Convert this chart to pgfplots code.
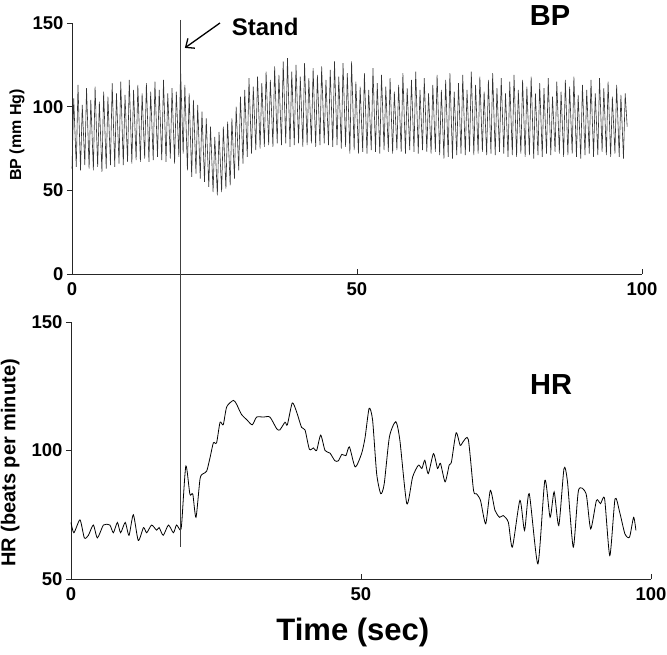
\documentclass[border=0pt]{standalone}
\usepackage{fontspec}
\setmainfont{Liberation Sans}
\usepackage{pgfplots}
\pgfplotsset{compat=1.18}
\usetikzlibrary{arrows.meta}

\pgfplotsset{
  panel/.style={
    scale only axis,
    axis x line*=bottom, axis y line*=left,
    axis line style={black!85, line width=0.8pt},
    tick align=outside, major tick length=5pt,
    x tick style={yshift=5pt, black!85, line width=0.8pt},
    y tick style={black!85, line width=0.8pt},
    xmin=0, xmax=100, xtick={0,50,100},
    ticklabel style={font=\fontsize{18.5}{20}\selectfont\bfseries},
    /pgf/number format/assume math mode=true,
    clip=false,
  }
}

\begin{document}
\begin{tikzpicture}
\useasboundingbox (0pt,0pt) rectangle (667pt,654pt);

% blood pressure
\begin{axis}[panel,
  at={(72pt,380pt)}, anchor=south west, width=570pt, height=251pt,
  ymin=0, ymax=150, ytick={0,50,100,150},
  ylabel={BP (mm Hg)},
  ylabel style={at={(axis description cs:-0.0965,0.554)}, anchor=center,
    font=\fontsize{16}{18}\selectfont\bfseries},
  title={BP},
  title style={at={(axis description cs:0.8386,1.03)}, anchor=center, yshift=-6pt,
    font=\fontsize{29}{30}\selectfont\bfseries},
]
\addplot[black!80, line width=0.6pt] coordinates {
(0.00,63)(0.30,105)(0.75,64)(1.05,113)(1.50,62)(1.80,101)(2.25,65)(2.55,111)
(3.00,63)(3.30,104)(3.75,62)(4.05,112)(4.50,64)(4.80,103)(5.25,61)(5.55,109)
(6.00,63)(6.30,106)(6.75,65)(7.05,114)(7.50,64)(7.80,108)(8.25,66)(8.55,115)
(9.00,65)(9.30,107)(9.75,67)(10.05,116)(10.50,66)(10.80,110)(11.25,68)(11.55,113)
(12.00,67)(12.30,108)(12.75,69)(13.05,114)(13.50,67)(13.80,109)(14.25,68)(14.55,115)
(15.00,70)(15.30,110)(15.75,68)(16.05,116)(16.50,67)(16.80,108)(17.25,69)(17.55,111)
(18.00,66)(18.30,109)(18.75,70)(19.05,122)(19.50,72)(19.80,113)(20.25,62)(20.55,108)
(21.00,58)(21.30,104)(21.75,60)(22.05,101)(22.50,57)(22.80,97)(23.25,55)(23.55,93)
(24.00,52)(24.30,88)(24.75,49)(25.05,82)(25.50,47)(25.80,85)(26.25,49)(26.55,88)
(27.00,51)(27.30,91)(27.75,53)(28.05,93)(28.50,57)(28.80,100)(29.25,62)(29.55,106)
(30.00,66)(30.30,110)(30.75,70)(31.05,117)(31.50,72)(31.80,112)(32.25,74)(32.55,118)
(33.00,75)(33.30,114)(33.75,76)(34.05,121)(34.50,77)(34.80,116)(35.25,76)(35.55,124)
(36.00,78)(36.30,119)(36.75,77)(37.05,127)(37.50,78)(37.80,129)(38.25,76)(38.55,121)
(39.00,77)(39.30,125)(39.75,78)(40.05,118)(40.50,76)(40.80,126)(41.25,77)(41.55,117)
(42.00,78)(42.30,123)(42.75,76)(43.05,119)(43.50,77)(43.80,124)(44.25,78)(44.55,116)
(45.00,77)(45.30,122)(45.75,76)(46.05,127)(46.50,77)(46.80,118)(47.25,75)(47.55,126)
(48.00,76)(48.30,120)(48.75,72)(49.05,127)(49.50,74)(49.80,115)(50.25,72)(50.55,112)
(51.00,73)(51.30,120)(51.75,72)(52.05,110)(52.50,74)(52.80,123)(53.25,73)(53.55,114)
(54.00,72)(54.30,119)(54.75,74)(55.05,112)(55.50,73)(55.80,117)(56.25,72)(56.55,109)
(57.00,74)(57.30,113)(57.75,73)(58.05,120)(58.50,72)(58.80,111)(59.25,74)(59.55,116)
(60.00,73)(60.30,121)(60.75,72)(61.05,110)(61.50,74)(61.80,117)(62.25,73)(62.55,108)
(63.00,72)(63.30,113)(63.75,73)(64.05,119)(64.50,71)(64.80,110)(65.25,69)(65.55,116)
(66.00,70)(66.30,120)(66.75,69)(67.05,109)(67.50,71)(67.80,114)(68.25,72)(68.55,119)
(69.00,71)(69.30,110)(69.75,73)(70.05,121)(70.50,71)(70.80,113)(71.25,72)(71.55,118)
(72.00,73)(72.30,109)(72.75,71)(73.05,116)(73.50,72)(73.80,120)(74.25,71)(74.55,111)
(75.00,73)(75.30,117)(75.75,72)(76.05,108)(76.50,70)(76.80,115)(77.25,71)(77.55,119)
(78.00,70)(78.30,110)(78.75,72)(79.05,116)(79.50,70)(79.80,112)(80.25,71)(80.55,118)
(81.00,69)(81.30,108)(81.75,71)(82.05,114)(82.50,70)(82.80,111)(83.25,72)(83.55,117)
(84.00,71)(84.30,106)(84.75,73)(85.05,115)(85.50,72)(85.80,109)(86.25,70)(86.55,116)
(87.00,71)(87.30,112)(87.75,72)(88.05,118)(88.50,70)(88.80,107)(89.25,69)(89.55,113)
(90.00,71)(90.30,110)(90.75,72)(91.05,116)(91.50,70)(91.80,108)(92.25,71)(92.55,117)
(93.00,73)(93.30,111)(93.75,71)(94.05,115)(94.50,70)(94.80,106)(95.25,72)(95.55,113)
(96.00,70)(96.30,107)(96.75,69)(97.05,108)(97.40,88)
};
\coordinate (st) at (axis cs:19,151.8);
\draw[black, line width=1.3pt, -{Straight Barb[length=7pt, width=12pt]}]
  (axis cs:25.96,150.0) -- (axis cs:19.8,135.1);
\node[font=\fontsize{24}{26}\selectfont\bfseries] at (axis cs:33.9,147.6) {Stand};
\end{axis}

% heart rate
\begin{axis}[panel,
  at={(71pt,75pt)}, anchor=south west, width=580pt, height=257pt,
  ymin=50, ymax=150, ytick={50,100,150},
  ylabel={HR (beats per minute)},
  ylabel style={at={(axis description cs:-0.105,0.451)}, anchor=center,
    font=\fontsize{20}{22}\selectfont\bfseries},
  xlabel={Time (sec)},
  xlabel style={at={(axis description cs:0.486,-0.21)}, anchor=center,
    font=\fontsize{31}{33}\selectfont\bfseries},
  title={HR},
  title style={at={(axis description cs:0.8276,0.755)}, anchor=center, yshift=-6pt,
    font=\fontsize{29}{30}\selectfont\bfseries},
]
\addplot[black, line width=0.8pt, smooth, tension=0.4] coordinates {
(0.0,72)(0.5,68)(1.55,73)(2.3,66)(3.0,67)(3.85,71)(4.55,66)(5.6,71)(6.7,71)
(7.3,68)(8.0,72)(8.55,68)(9.35,72)(10.0,67)(10.75,75)(11.6,65)(12.5,70)(13.05,68)
(13.9,71)(14.75,69)(15.2,70)(15.9,67)(16.8,71)(17.65,68)(18.2,71)(18.85,69)
(19.1,72)(19.8,94)(20.5,83)(21.0,83)(21.55,74)(22.25,89)(22.8,91)(23.4,92)
(24.0,97.5)(24.55,103)(25.1,103)(25.7,111)(26.25,110)(26.85,117)(28.0,119.5)
(28.55,118)(29.4,114)(30.3,112)(31.25,110)(32.0,113)(33.15,113)(34.3,113)
(35.45,108.5)(36.0,108)(36.9,111)(37.3,110)(38.15,118.5)(38.9,115)(39.75,109)
(40.35,108)(41.1,100.5)(41.8,101)(42.35,100)(43.05,106)(43.8,100)(44.65,99)
(45.5,96)(46.1,96)(46.7,98.5)(47.4,98)(48.0,101.4)(49.0,93.6)(50.1,98.8)
(50.7,105)(51.4,116.4)(52.0,111.8)(52.7,91)(53.4,83.2)(54.0,87)(54.9,105.3)
(56.0,111.2)(56.7,104)(57.9,79.3)(58.9,89.7)(59.9,94.3)(60.5,93)(61.0,96.2)
(61.6,91)(62.5,98.8)(63.2,93)(63.7,95)(64.5,87.8)(65.2,94.3)(65.6,95.6)
(66.4,106.9)(67.1,102)(67.6,103.4)(68.5,104.3)(69.4,84.5)(69.9,83.2)(70.6,80.6)
(71.5,71.5)(72.3,84.5)(73.1,76.7)(73.9,74)(74.5,74.7)(75.4,72.1)(76.1,62.4)
(77.4,80.6)(78.2,68.9)(79.0,83.2)(80.5,55.9)(81.7,88.4)(82.6,74)(83.3,83.9)
(84.1,70.8)(85.0,93)(85.6,87.8)(86.6,62.4)(87.5,84.5)(88.8,83.2)(89.6,69.5)
(90.6,80.6)(91.3,79.3)(92.0,81.2)(92.9,59.1)(93.8,81.2)(94.6,76)(95.5,67.6)
(96.3,66.3)(97.0,74)(97.4,68.9)
};
\coordinate (sb) at (axis cs:19,62.5);
\end{axis}

\draw[black!75, line width=0.6pt] (st) -- (st |- sb);
\end{tikzpicture}
\end{document}
